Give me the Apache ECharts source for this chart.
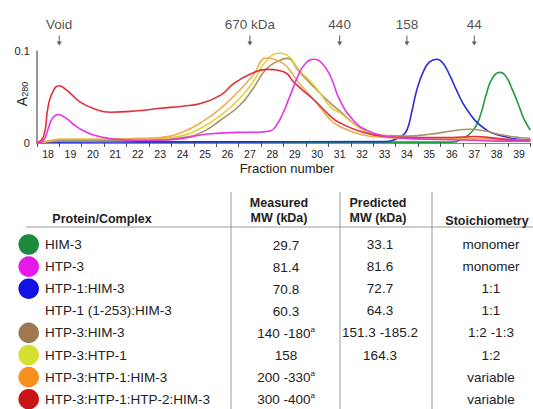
<!DOCTYPE html>
<html><head><meta charset="utf-8">
<script src="https://cdn.jsdelivr.net/npm/echarts@6/dist/echarts.min.js"></script>
<style>html,body{margin:0;padding:0;background:#fff}#c{width:533px;height:409px}</style>
</head><body><div id="c"></div>
<script>
// ---------- data ----------
const fractions = ['18','19','20','21','22','23','24','25','26','27','28','29','30','31','32','33','34','35','36','37','38','39'];
const markerFractions = [18.5, 27, 31, 34, 37];
const markerLabels = ['Void', '670 kDa', '440', '158', '44'];

const him3 = [[17.5,0],[18,0.0015],[18.5,0.002],[21,0.002],[22,0.001],[36.0,0.001],[36.5,0.005],[36.96,0.014],[37.26,0.029],[37.55,0.054],[37.8,0.07],[38.15,0.0768],[38.4,0.073],[38.7,0.058],[39.0,0.04],[39.2,0.027],[39.5,0.014]];
const htp3 = [[17.5,0],[17.8,0.003],[18.0,0.015],[18.2,0.027],[18.45,0.031],[18.8,0.027],[19.2,0.019],[19.6,0.013],[20.0,0.009],[20.5,0.006],[21.0,0.004],[22.0,0.003],[23.0,0.003],[24.0,0.005],[24.8,0.0087],[25.5,0.0105],[26.5,0.0115],[27.5,0.012],[27.9,0.013],[28.2,0.02],[28.5,0.034],[28.8,0.052],[29.2,0.076],[29.5,0.087],[29.85,0.091],[30.2,0.087],[30.6,0.072],[31.0,0.047],[31.6,0.025],[32.2,0.014],[33.0,0.0076],[34.0,0.005],[35.0,0.004],[37.0,0.003],[38.0,0.002],[39.5,0.002]];
const htp1him3 = [[17.5,0],[18,0.0008],[25,0.0012],[33.0,0.0015],[33.5,0.004],[33.8,0.008],[34.0,0.014],[34.2,0.032],[34.44,0.0576],[34.73,0.0775],[35.0,0.088],[35.33,0.091],[35.6,0.087],[35.9,0.074],[36.2,0.058],[36.5,0.043],[36.8,0.032],[37.1,0.023],[37.5,0.015],[37.8,0.011],[38.5,0.006],[39.0,0.004],[39.5,0.003]];
const htp3him3 = [[17.5,0],[18.5,0.002],[20,0.002],[22,0.003],[23,0.004],[24,0.006],[24.8,0.011],[25.7,0.025],[26.55,0.041],[27.15,0.0595],[27.75,0.081],[28.35,0.090],[28.65,0.092],[29.2,0.0775],[29.85,0.061],[30.6,0.043],[31,0.035],[32,0.015],[33,0.008],[34,0.0075],[35,0.0095],[36,0.013],[36.8,0.015],[37.5,0.013],[38.2,0.009],[39,0.006],[39.5,0.005]];
const htp3htp1 = [[17.5,0],[18,0.002],[18.5,0.004],[20,0.004],[22,0.004],[23,0.005],[24,0.008],[24.8,0.016],[25.7,0.030],[26.55,0.0486],[27.15,0.0667],[27.75,0.090],[28.35,0.0975],[28.65,0.0957],[29.2,0.079],[29.85,0.063],[30.6,0.039],[31,0.033],[32,0.015],[33,0.008],[34,0.005],[36,0.004],[38,0.003],[39.5,0.002]];
const htp3htp1him3 = [[17.5,0],[18,0.002],[18.5,0.004],[20,0.004],[22,0.005],[23,0.006],[24,0.012],[24.8,0.022],[25.7,0.0377],[26.55,0.0576],[27.15,0.074],[27.75,0.0924],[28.35,0.0884],[28.65,0.083],[29.2,0.065],[29.85,0.047],[30.6,0.025],[31,0.018],[32,0.009],[33,0.006],[34,0.005],[36,0.005],[37,0.005],[38,0.004],[39.5,0.003]];
const htp3htp1htp2him3 = [[17.5,0],[17.8,0.007],[18.0,0.039],[18.2,0.055],[18.5,0.0623],[18.8,0.058],[19.0,0.054],[19.4,0.045],[20.0,0.0377],[20.8,0.0335],[22.0,0.035],[23.0,0.0377],[24.0,0.040],[24.8,0.043],[25.7,0.052],[26.25,0.064],[27.0,0.0747],[27.75,0.080],[28.5,0.0775],[29.0,0.065],[29.85,0.047],[30.6,0.029],[31.0,0.022],[32.0,0.012],[33.0,0.007],[34.0,0.006],[35.0,0.006],[36.0,0.006],[37.0,0.007],[38.0,0.005],[39.0,0.003],[39.5,0.003]];

const rowNames = ['HIM-3','HTP-3','HTP-1:HIM-3','HTP-1 (1-253):HIM-3','HTP-3:HIM-3','HTP-3:HTP-1','HTP-3:HTP-1:HIM-3','HTP-3:HTP-1:HTP-2:HIM-3'];
const measuredMW = ['29.7','81.4','70.8','60.3','140 -180','158','200 -330','300 -400'];
const measuredNote = ['','','','','a','','a','a'];
const predictedMW = ['33.1','81.6','72.7','64.3','151.3 -185.2','164.3','',''];
const stoichiometry = ['monomer','monomer','1:1','1:1','1:2 -1:3','1:2','variable','variable'];
const rowDotColors = ['#1e8a3c','#e619e6','#1212e6',null,'#a07850','#d6e030','#f7901e','#c81414'];

// ---------- chart ----------
const FONT = '"Liberation Sans", Arial, sans-serif';
const lineSeries = [
  ['HIM-3', him3, '#1f9a3e'],
  ['HTP-1:HIM-3', htp1him3, '#2a2ae0'],
  ['HTP-3:HIM-3', htp3him3, '#a89462'],
  ['HTP-3:HTP-1', htp3htp1, '#e2d13a'],
  ['HTP-3:HTP-1:HIM-3', htp3htp1him3, '#f0ac50'],
  ['HTP-3:HTP-1:HTP-2:HIM-3', htp3htp1htp2him3, '#e2303a'],
  ['HTP-3', htp3, '#e634e6']
].map(([name, data, color]) => ({
  name, type: 'line', xAxisIndex: 1, yAxisIndex: 0, data,
  showSymbol: false, smooth: 0.5,
  lineStyle: { color, width: 1.6 }, itemStyle: { color }
}));

const graphic = [];
graphic.push({ type: 'text', x: 287, y: 168, style: { text: 'Fraction number', font: '13px ' + FONT, fill: '#222', align: 'center', verticalAlign: 'middle' } });
graphic.push({ type: 'text', x: 21, y: 94, rotation: Math.PI / 2, style: {
  text: '{a|A}{s|280}', align: 'center', verticalAlign: 'middle',
  rich: { a: { fontSize: 14, fontFamily: FONT, fill: '#222', verticalAlign: 'bottom', lineHeight: 16 },
          s: { fontSize: 9, fontFamily: FONT, fill: '#222', verticalAlign: 'bottom', lineHeight: 16 } } } });
const ln = (x1, y1, x2, y2) => ({ type: 'line', shape: { x1, y1, x2, y2 }, style: { stroke: '#9a9a9a', lineWidth: 1 } });
graphic.push(ln(26, 227, 533, 227));
graphic.push(ln(231, 192, 231, 409));
graphic.push(ln(340, 192, 340, 409));
graphic.push(ln(432, 192, 432, 409));
const hdr = (x, y, t) => ({ type: 'text', x, y, style: { text: t, font: 'bold 12.5px ' + FONT, fill: '#222', align: 'center', verticalAlign: 'middle' } });
graphic.push(hdr(102, 219, 'Protein/Complex'));
graphic.push(hdr(279, 203, 'Measured'));
graphic.push(hdr(279, 218, 'MW (kDa)'));
graphic.push(hdr(378, 203, 'Predicted'));
graphic.push(hdr(378, 218, 'MW (kDa)'));
graphic.push(hdr(487, 221, 'Stoichiometry'));
const bodyRich = { n: { fontSize: 13.5, fontFamily: FONT, fill: '#222', verticalAlign: 'bottom', lineHeight: 15 },
                   s: { fontSize: 8, fontFamily: FONT, fill: '#222', verticalAlign: 'top', lineHeight: 15 } };
rowNames.forEach((name, i) => {
  const y = 244.5 + i * 22.1;
  if (rowDotColors[i]) graphic.push({ type: 'circle', shape: { cx: 28.7, cy: y, r: 10.3 }, style: { fill: rowDotColors[i] } });
  graphic.push({ type: 'text', x: 45, y, style: { text: name, font: '13.5px ' + FONT, fill: '#222', align: 'left', verticalAlign: 'middle' } });
  const m = '{n|' + measuredMW[i] + '}' + (measuredNote[i] ? '{s|' + measuredNote[i] + '}' : '');
  graphic.push({ type: 'text', x: 286, y, style: { text: m, rich: bodyRich, align: 'center', verticalAlign: 'middle' } });
  if (predictedMW[i]) graphic.push({ type: 'text', x: 380, y, style: { text: predictedMW[i], font: '13.5px ' + FONT, fill: '#222', align: 'center', verticalAlign: 'middle' } });
  graphic.push({ type: 'text', x: 491, y, style: { text: stoichiometry[i], font: '13.5px ' + FONT, fill: '#222', align: 'center', verticalAlign: 'middle' } });
});

const chart = echarts.init(document.getElementById('c'), null, { renderer: 'svg' });
chart.setOption({
  animation: false,
  backgroundColor: '#fff',
  grid: [
    { left: 36.8, right: 2.7, top: 51, bottom: 266 },
    { left: 36.8, right: 2.7, top: 0, height: 50 }
  ],
  xAxis: [
    { type: 'category', gridIndex: 0, data: fractions, boundaryGap: true,
      axisLine: { lineStyle: { color: '#8a8a8a', width: 1 } },
      axisTick: { show: true, length: 4, lineStyle: { color: '#555' } },
      axisLabel: { fontSize: 10.5, fontFamily: FONT, color: '#222', margin: 5, interval: 0 } },
    { type: 'value', gridIndex: 0, min: 17.5, max: 39.5, show: false },
    { type: 'value', gridIndex: 1, min: 17.5, max: 39.5, show: false }
  ],
  yAxis: [
    { type: 'value', gridIndex: 0, min: 0, max: 0.1, interval: 0.1,
      axisLine: { show: true, lineStyle: { color: '#777', width: 1.5 } },
      axisTick: { show: false }, splitLine: { show: false },
      axisLabel: { fontSize: 11, fontFamily: FONT, color: '#222', margin: 7 } },
    { type: 'value', gridIndex: 1, min: 0, max: 1, show: false }
  ],
  series: lineSeries.concat([{
    type: 'scatter', xAxisIndex: 2, yAxisIndex: 1,
    data: markerFractions.map((f, i) => ({ value: [f, 0.19], label: { formatter: markerLabels[i] } })),
    symbol: 'path://M1.6,0 H2.4 V6 H4 L2,10 L0,6 H1.6 Z', symbolSize: [5, 10],
    itemStyle: { color: '#333' },
    label: { show: true, position: 'top', distance: 4, fontSize: 13.5, fontFamily: FONT, color: '#222' },
    silent: true
  }]),
  graphic
});
</script></body></html>
